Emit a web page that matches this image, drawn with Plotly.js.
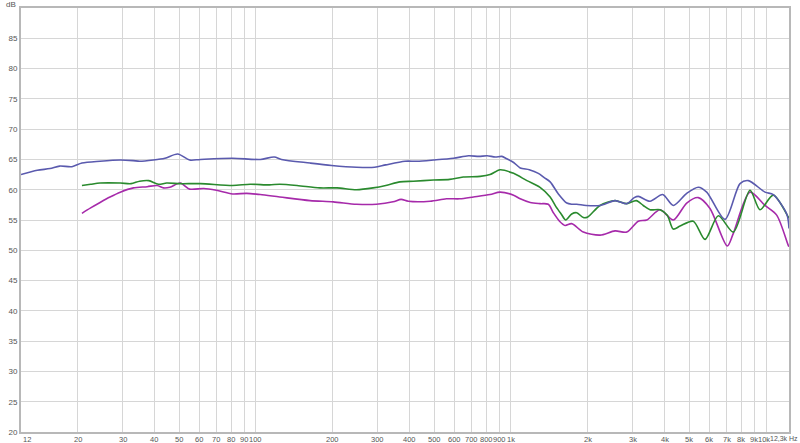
<!DOCTYPE html>
<html>
<head>
<meta charset="utf-8">
<script src="https://cdn.plot.ly/plotly-3.0.1.min.js"></script>
<style>html,body{margin:0;padding:0;background:#fff;}#chart{width:800px;height:443px;}</style>
</head>
<body>
<div id="chart"></div>
<script>
// Frequency (Hz) and level (dB) for each trace
const blueFreq = [12, 13.9, 15.6, 17, 19, 20.8, 24.5, 29.4, 33, 35, 39.6, 44, 49.4, 55, 60.6, 81, 104, 118, 126, 163, 198, 248, 292, 323, 384, 428, 497, 595, 682, 748, 806, 868, 921, 962, 1024, 1087, 1180, 1280, 1350, 1424, 1534, 1655, 1730, 1811, 1970, 2234, 2558, 2844, 3043, 3156, 3508, 3934, 4328, 4886, 5424, 5852, 6902, 7904, 8517, 9906, 10672, 12052, 12300];
const blueDb   = [62.5, 63.2, 63.5, 63.9, 63.8, 64.4, 64.7, 64.9, 64.8, 64.7, 64.9, 65.2, 65.9, 64.9, 65.0, 65.2, 65.0, 65.4, 65.0, 64.4, 64.0, 63.7, 63.7, 64.1, 64.7, 64.7, 64.9, 65.2, 65.6, 65.5, 65.6, 65.4, 65.5, 65.1, 64.5, 63.6, 63.3, 62.7, 62.0, 61.3, 59.3, 57.8, 57.6, 57.6, 57.4, 57.4, 58.2, 57.7, 58.7, 58.9, 58.1, 59.2, 57.4, 59.4, 60.4, 59.6, 55.1, 61.0, 61.5, 59.6, 59.2, 56.0, 53.6];

const greenFreq = [20.8, 22.5, 24.5, 29.4, 32.4, 35, 38, 41.5, 44.7, 50.5, 60.6, 81, 95, 113, 124, 145, 178, 208, 248, 288, 323, 367, 414, 497, 575, 650, 757, 828, 906, 1024, 1155, 1300, 1424, 1500, 1573, 1640, 1730, 1811, 1922, 2000, 2234, 2558, 2844, 3100, 3300, 3508, 3838, 4100, 4328, 4600, 5184, 5764, 6500, 7442, 8650, 9464, 10672, 12220, 12300];
const greenDb   = [60.7, 60.9, 61.1, 61.1, 61.0, 61.4, 61.5, 60.9, 61.1, 61.0, 61.0, 60.7, 60.9, 60.8, 60.9, 60.7, 60.3, 60.3, 60.0, 60.3, 60.7, 61.3, 61.4, 61.6, 61.7, 62.1, 62.2, 62.5, 63.3, 62.7, 61.5, 60.4, 58.8, 57.2, 56.0, 55.0, 56.0, 56.2, 55.4, 55.5, 57.4, 58.2, 57.7, 58.2, 57.4, 56.7, 56.7, 55.8, 53.5, 54.0, 54.8, 51.8, 55.7, 53.0, 59.9, 56.7, 59.1, 55.5, 55.3];

const magentaFreq = [20.8, 22.5, 24.5, 26.8, 29.4, 33.1, 37.5, 41, 43.4, 46, 50.5, 55, 62.5, 70, 81, 92, 104, 124, 163, 201, 248, 297, 345, 371, 396, 482, 558, 630, 713, 828, 906, 1024, 1087, 1190, 1300, 1400, 1466, 1550, 1630, 1730, 1922, 2234, 2558, 2844, 3156, 3406, 3838, 4328, 4886, 5424, 6028, 7047, 7442, 8650, 9906, 11006, 12220, 12300];
const magentaDb   = [56.1, 57.0, 57.9, 58.8, 59.6, 60.3, 60.5, 60.7, 60.3, 60.4, 61.1, 60.1, 60.2, 59.9, 59.3, 59.4, 59.2, 58.8, 58.2, 58.0, 57.6, 57.6, 58.0, 58.4, 58.1, 58.1, 58.5, 58.5, 58.8, 59.2, 59.6, 59.1, 58.5, 57.9, 57.7, 57.6, 56.2, 54.8, 54.1, 54.4, 53.0, 52.5, 53.2, 53.0, 54.8, 55.0, 56.7, 55.0, 57.8, 58.7, 56.9, 50.7, 52.8, 59.6, 57.4, 55.8, 50.8, 50.6];

// Axis ticks
const xTickVals = [12, 20, 30, 40, 50, 60, 70, 80, 90, 100, 200, 300, 400, 500, 600, 700, 800, 900, 1000, 2000, 3000, 4000, 5000, 6000, 7000, 8000, 9000, 10000, 12300];
const xTickText = ['12', '20', '30', '40', '50', '60', '70', '80', '90', '100', '200', '300', '400', '500', '600', '700', '800', '900', '1k', '2k', '3k', '4k', '5k', '6k', '7k', '8k', '9k', '10k', '12,3k Hz'];
const yTickVals = [20, 25, 30, 35, 40, 45, 50, 55, 60, 65, 70, 75, 80, 85];
const yTickText = ['20', '25', '30', '35', '40', '45', '50', '55', '60', '65', '70', '75', '80', '85'];
const yUnit = 'dB';

const xMin = 12, xMax = 12300, yMin = 20, yMax = 90;

function trace(x, y, color) {
  return {x: x, y: y, type: 'scatter', mode: 'lines',
          line: {color: color, width: 1.6, shape: 'spline', smoothing: 0.8},
          hoverinfo: 'skip', showlegend: false};
}

const data = [
  trace(magentaFreq, magentaDb, '#a62aaa'),
  trace(greenFreq, greenDb, '#2a8a2e'),
  trace(blueFreq, blueDb, '#5a5aae')
];

const labelFont = {family: 'Liberation Sans, Arial, sans-serif', size: 8, color: '#555555'};
const xLabelFont = {family: 'Liberation Sans, Arial, sans-serif', size: 7.5, color: '#555555'};
const lastLabelFont = {family: 'Liberation Sans, Arial, sans-serif', size: 7, color: '#555555'};
const nLabels = xTickVals.length;
const annotations = xTickVals.map(function (v, i) {
  const last = i === nLabels - 1;
  const first = i === 0;
  const beforeLast = i === nLabels - 2;
  return {
    x: Math.log10(v), xref: 'x', y: yMin, yref: 'y',
    text: xTickText[i], showarrow: false, font: last ? lastLabelFont : xLabelFont,
    xanchor: last ? 'right' : (first ? 'left' : 'center'),
    xshift: last ? 11 : (beforeLast ? -2 : 0),
    yanchor: 'top', yshift: -1
  };
});
annotations.push({
  x: 0, xref: 'paper', y: yMax, yref: 'y', text: yUnit, showarrow: false,
  font: labelFont, xanchor: 'right', xshift: -3, yanchor: 'middle', yshift: 4
});

const layout = {
  width: 800, height: 443,
  margin: {l: 21, r: 11, t: 8, b: 11, pad: 0},
  paper_bgcolor: '#ffffff', plot_bgcolor: '#ffffff',
  font: labelFont,
  annotations: annotations,
  xaxis: {
    type: 'log', range: [Math.log10(xMin), Math.log10(xMax)],
    tickmode: 'array', tickvals: xTickVals, showticklabels: false,
    showgrid: true, gridcolor: '#d6d6d6', gridwidth: 1,
    showline: true, linecolor: '#b8b8b8', linewidth: 2, mirror: true,
    ticks: '', zeroline: false, automargin: false
  },
  yaxis: {
    range: [yMin, yMax],
    tickmode: 'array', tickvals: yTickVals, ticktext: yTickText,
    showgrid: true, gridcolor: '#d6d6d6', gridwidth: 1,
    showline: true, linecolor: '#b8b8b8', linewidth: 2, mirror: true,
    ticks: '', zeroline: false, automargin: false
  }
};

Plotly.newPlot('chart', data, layout, {staticPlot: true, displayModeBar: false});
</script>
</body>
</html>
